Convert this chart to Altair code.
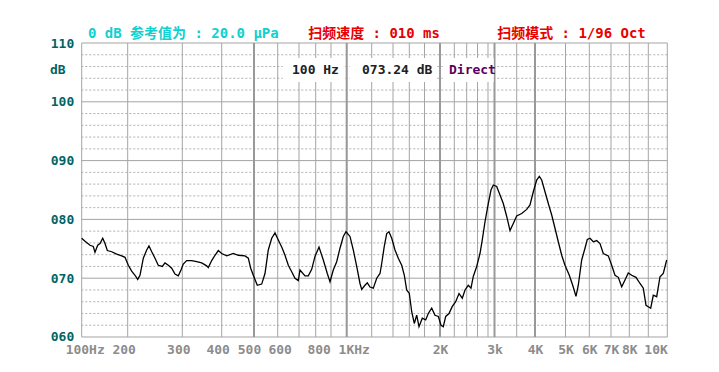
import altair as alt
import pandas as pd

# ---- curve data (frequency in Hz, level in dB) ----
freq = [100, 107.2, 118, 125.2, 128.9, 134.8, 139.8, 145.7, 150.7, 155.7,
        165.2, 176.1, 187, 194.1, 201.1, 207.3, 213.4, 218.3, 222.5, 228.6,
        234.8, 239, 244, 250, 256, 263.4, 268.3, 274.4, 280.6, 286.6,
        292.7, 297.6, 302.5, 311.2, 323.9, 336.5, 349.2, 361.9, 366, 374.6,
        383, 391.4, 400, 415.5, 435.9, 451.4, 472.1, 482.4, 489.8, 497.8,
        513.9, 532.5, 546.4, 560.3, 574.7, 588.6, 602.8, 618.8, 634.3, 649.8,
        665.7, 681.2, 696.7, 706, 735.9, 755.7, 776, 795.8, 821.6, 849.7,
        875.8, 893.5, 914.6, 936.3, 957.3, 978.3, 995.5, 1026.4, 1052.8, 1080,
        1106.4, 1120, 1146.4, 1164.8, 1186.4, 1215, 1247, 1278, 1294, 1318,
        1341, 1362, 1388, 1424.5, 1465, 1507, 1539, 1568, 1600, 1631.6,
        1665.8, 1697.4, 1727.6, 1771, 1815.5, 1849, 1893, 1935.5, 1978, 2014,
        2046, 2080, 2126, 2172, 2222.6, 2275.8, 2329, 2372.6, 2429.6, 2479.6,
        2522, 2585, 2647.6, 2691, 2743, 2809, 2892, 2963, 3049.5, 3124,
        3198, 3275, 3349.5, 3423.4, 3500, 3636.6, 3773, 3863.4, 3953.6, 4055.7,
        4141, 4219.7, 4327.9, 4436, 4547.6, 4655.7, 4764, 4875.4, 4983.6, 5159.7,
        5302.5, 5441, 5537.8, 5680.7, 5819.3, 5916, 6032, 6184, 6341, 6493,
        6645, 6876, 7038, 7218.6, 7398.9, 7584.7, 7765, 7945, 8126, 8352.6,
        8563, 8737, 8879, 9000, 9126, 9263, 9442, 9616, 9789, 9968]

level = [76.8, 76.3, 75.6, 75.4, 74.4, 75.6, 75.9, 76.8, 75.9, 74.7,
         74.5, 74.1, 73.8, 73.55, 72.2, 71.2, 70.5, 69.8, 70.5, 73.4,
         74.8, 75.5, 74.5, 73.4, 72.2, 72.0, 72.6, 72.2, 71.7, 70.7,
         70.4, 71.4, 72.4, 73.0, 73.0, 72.8, 72.6, 72.1, 71.8, 73.0,
         73.9, 74.7, 74.2, 73.8, 74.2, 73.9, 73.8, 73.4, 71.7, 70.5,
         68.8, 69.0, 70.8, 74.8, 76.8, 77.7, 76.5, 75.3, 73.9, 72.2,
         71.1, 70.0, 69.6, 71.4, 70.4, 70.4, 71.5, 73.7, 75.3, 73.1,
         70.8, 69.4, 71.4, 72.8, 75.1, 77.1, 77.9, 77.1, 74.8, 72.0,
         69.1, 68.1, 68.8, 69.2, 68.5, 68.3, 70.0, 70.8, 72.5, 75.4,
         77.6, 77.9, 76.8, 74.8, 73.4, 72.2, 70.5, 68.0, 67.4, 64.3,
         62.3, 63.7, 61.75, 63.2, 62.9, 64.0, 64.9, 63.7, 63.5, 62.0,
         61.75, 63.5, 64.0, 65.2, 66.0, 67.4, 66.6, 68.0, 68.8, 68.3,
         70.3, 72.0, 74.2, 76.5, 79.6, 82.7, 85.0, 85.85, 85.6, 84.15,
         82.7, 80.5, 78.1, 79.3, 80.6, 81.0, 81.7, 82.45, 84.7, 86.7,
         87.3, 86.7, 84.7, 82.7, 80.75, 78.5, 76.2, 73.9, 72.2, 70.5,
         68.8, 66.9, 68.8, 73.1, 75.1, 76.6, 76.8, 76.2, 76.4, 75.9,
         74.2, 73.8, 72.2, 70.5, 70.15, 68.55, 69.7, 70.9, 70.5, 70.15,
         69.1, 68.3, 65.4, 65.15, 64.9, 67.1, 66.85, 70.25, 70.8, 73.1]

# ---- grid and axis definitions ----
grid_freqs = [100, 200, 300, 400, 500, 600, 700, 800, 900, 1000,
              1200, 1400, 1600, 1800, 2000, 2200, 2400, 2600, 2800, 3000,
              3500, 4000, 5000, 6000, 7000, 8000, 9000, 10000]
major_grid_freqs = [500, 1000, 2000, 3000, 4000]
tick_values = [100, 200, 300, 400, 500, 600, 800, 1000, 2000, 3000,
               4000, 5000, 6000, 7000, 8000, 10000]
tick_labels = ["100Hz", "200", "300", "400", "500", "600", "800", "1KHz", "2K", "3k",
               "4K", "5K", "6K", "7K", "8K", "10K"]
y_major = [60, 70, 80, 90, 100, 110]
y_minor = [62, 64, 66, 68, 72, 74, 76, 78, 82, 84, 86, 88,
           92, 94, 96, 98, 102, 104, 106, 108]

# the analyser's frequency axis is not a pure log axis: piecewise scale
x_range_px = [0, 46, 100.6, 140, 172.3, 196, 217.3, 234, 249.3, 265,
              290, 311.3, 327.6, 342.8, 358.3, 372.6, 385, 395.8, 406.3, 412.8,
              435, 453.3, 483.8, 507.6, 529.3, 547.6, 566.6, 585.6]

W, H = 585.6, 294
MONO = "DejaVu Sans Mono, Noto Sans CJK SC"
GRID = "#a4a4a4"

xscale = alt.Scale(type="linear", domain=grid_freqs, range=x_range_px,
                   nice=False, zero=False)
yscale = alt.Scale(domain=[60, 110], nice=False, zero=False)

label_expr = "".join(f"datum.value == {v} ? '{t}' : " for v, t in zip(tick_values, tick_labels)) + "''"

x_axis = alt.Axis(
    values=tick_values, labelExpr=label_expr, title=None, grid=False,
    ticks=False, domain=False, labelFont=MONO, labelFontSize=13,
    labelFontWeight="bold", labelColor="#8c8c8c", labelPadding=7,
    labelFlush=False, labelOverlap=False,
    labelAlign={"condition": {"test": "datum.value == 10000", "value": "right"},
                "value": "center"},
    labelOffset={"condition": [
        {"test": "datum.value == 100", "value": 3},
        {"test": "datum.value >= 200 && datum.value <= 400", "value": -4},
        {"test": "datum.value == 500", "value": -5},
        {"test": "datum.value == 600", "value": 2},
        {"test": "datum.value == 800", "value": 3},
        {"test": "datum.value == 1000", "value": 7},
    ], "value": 0})
y_axis = alt.Axis(
    values=y_major, format="03d", title=None, grid=False, ticks=False,
    domain=False, labelFont=MONO, labelFontSize=13, labelFontWeight="bold",
    labelColor="#006464", labelPadding=8, labelFlush=False, labelOverlap=False)


def X(field):
    return alt.X(field, scale=xscale, axis=x_axis)


def Y(field):
    return alt.Y(field, scale=yscale, axis=y_axis)


minor_h = alt.Chart(pd.DataFrame({"v": y_minor})).mark_rule(
    color="#b0b0b0", strokeWidth=1, strokeDash=[2, 2]
).encode(y=Y("v:Q"))

major_h = alt.Chart(pd.DataFrame({"v": y_major})).mark_rule(
    color=GRID, strokeWidth=1
).encode(y=Y("v:Q"))

vert = alt.Chart(pd.DataFrame({"f": grid_freqs})).mark_rule(
    color=GRID, strokeWidth=1
).encode(x=X("f:Q"))

vert_major = alt.Chart(pd.DataFrame({"f": major_grid_freqs})).mark_rule(
    color="#999999", strokeWidth=2
).encode(x=X("f:Q"))

one = pd.DataFrame({"k": [0]})


def box(x0, x1, y0, y1):
    return alt.Chart(one).mark_rect(color="white").encode(
        x=alt.value(x0), x2=alt.value(x1), y=alt.value(y0), y2=alt.value(y1))


def label(txt, x, y, color, size=13, weight="bold"):
    return alt.Chart(one).mark_text(
        text=txt, align="left", baseline="middle", font=MONO,
        fontSize=size, fontWeight=weight, color=color
    ).encode(x=alt.value(x), y=alt.value(y))


boxes = box(201, 262, 15, 39) + box(268, 355, 15, 39) + box(361, 412, 15, 39)

texts = (
    label("0 dB 参考值为 : 20.0 μPa", 6.3, -9, "#10d0d0", 14)
    + label("扫频速度 : 010 ms", 226.5, -9, "#e80000", 14)
    + label("扫频模式 : 1/96 Oct", 415.5, -9, "#e80000", 14)
    + label("100 Hz", 210.3, 27, "#202020")
    + label("073.24 dB", 280.3, 27, "#202020")
    + label("Direct", 367.3, 27, "#5a0060")
    + label("dB", -31.7, 27, "#006464")
)

curve = alt.Chart(pd.DataFrame({"freq": freq, "level": level})).mark_line(
    color="black", strokeWidth=1.3
).encode(x=X("freq:Q"), y=Y("level:Q"))

chart = alt.layer(minor_h, major_h, vert, vert_major, boxes, texts, curve).properties(
    width=W, height=H,
    autosize=alt.AutoSizeParams(type="none"),
    padding={"left": 73.7, "top": 35, "right": 30, "bottom": 30},
    background="white",
).configure_view(stroke=None)

chart.save("out.html", embed_options={"renderer": "svg", "actions": False})
